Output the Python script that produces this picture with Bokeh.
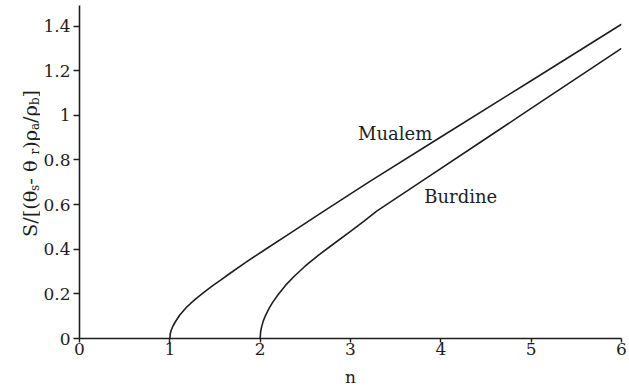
import math
import glob
from bokeh.plotting import figure
from bokeh.layouts import row
from bokeh.models import FixedTicker, Range1d, Label
from bokeh.core.properties import value
from bokeh.embed import file_html
from bokeh.resources import INLINE

# ---- data ----
mualem_n = [1.0, 1.005, 1.015, 1.035, 1.06, 1.108, 1.18, 1.23, 1.29, 1.38, 1.475, 1.57, 1.66,
            1.84, 2.06, 2.30, 2.65, 3.00, 3.25, 4.00, 5.00, 6.00]
mualem_s = [0.0, 0.021, 0.037, 0.056, 0.074, 0.104, 0.138, 0.157, 0.179, 0.208, 0.237, 0.264, 0.290,
            0.341, 0.400, 0.463, 0.556, 0.648, 0.713, 0.903, 1.155, 1.408]

burdine_n = [2.0, 2.005, 2.015, 2.035, 2.06, 2.10, 2.14, 2.20, 2.28, 2.38, 2.50, 2.65,
             2.80, 3.00, 3.15, 3.29, 3.79, 4.50, 5.00, 6.00]
burdine_s = [0.0, 0.030, 0.051, 0.079, 0.104, 0.136, 0.163, 0.197, 0.238, 0.280, 0.325, 0.375,
             0.420, 0.480, 0.526, 0.571, 0.705, 0.896, 1.031, 1.300]

x_ticks = [0, 1, 2, 3, 4, 5, 6]
x_tick_labels = ["0", "1", "2", "3", "4", "5", "6"]
y_ticks = [0, 0.2, 0.4, 0.6, 0.8, 1.0, 1.2, 1.4]
y_tick_labels = ["0", "0.2", "0.4", "0.6", "0.8", "1", "1.2", "1.4"]

curve_names = ["Mualem", "Burdine"]
x_label = "n"
# y label: S/[(θs - θr)ρa/ρb] split into normal / subscript runs
y_label_runs = ["S/[(θ", "s", " - θ", "r", ")ρ", "a", "/ρ", "b", "]"]
y_label_is_sub = [False, True, False, True, False, True, False, True, False]

FONT = "DejaVu Serif"
INK = "#1e1e1e"
W, H = 629, 389
LW = 40                 # width of the strip that carries the rotated y title
TOP, BOTTOM = 5, 49     # borders above / below the plotting frame

# ---- main plot ----
p = figure(width=W - LW, height=H, output_backend="svg", toolbar_location=None,
           x_range=Range1d(0, 6), y_range=Range1d(0, 1.492),
           min_border_left=76 - LW, min_border_right=8,
           min_border_top=TOP, min_border_bottom=BOTTOM)
p.outline_line_color = None
p.xgrid.visible = False
p.ygrid.visible = False

p.line(mualem_n, mualem_s, line_color=INK, line_width=1.6)
p.line(burdine_n, burdine_s, line_color=INK, line_width=1.6)

for ax in (p.xaxis[0], p.yaxis[0]):
    ax.axis_line_color = INK
    ax.axis_line_width = 1.6
    ax.major_tick_line_color = INK
    ax.major_tick_line_width = 1.4
    ax.minor_tick_line_color = None
    ax.major_tick_in = 0
    ax.major_label_text_font = FONT
    ax.major_label_text_font_size = "17px"
    ax.major_label_text_color = INK

xa = p.xaxis[0]
xa.ticker = FixedTicker(ticks=x_ticks)
xa.major_label_overrides = {t: s for t, s in zip(x_ticks, x_tick_labels)}
xa.major_tick_out = 4
xa.major_label_standoff = 0
xa.axis_label = x_label
xa.axis_label_text_font = FONT
xa.axis_label_text_font_size = "17px"
xa.axis_label_text_font_style = "normal"
xa.axis_label_text_color = INK
xa.axis_label_standoff = 9

ya = p.yaxis[0]
ya.ticker = FixedTicker(ticks=y_ticks)
ya.major_label_overrides = {t: s for t, s in zip(y_ticks, y_tick_labels)}
ya.major_tick_out = 6
ya.major_label_standoff = 3

for name, lx, ly in ((curve_names[0], 3.083, 0.888), (curve_names[1], 3.817, 0.606)):
    p.add_layout(Label(x=lx, y=ly, y_offset=7, text=name, text_font=FONT, text_font_size="18px",
                       text_align="left", text_baseline="alphabetic", text_color=INK))

# ---- strip with the rotated y title; its frame lines up with the main frame ----
q = figure(width=LW, height=H, output_backend="svg", toolbar_location=None,
           x_range=Range1d(0, LW), y_range=Range1d(BOTTOM, H - TOP),
           x_axis_location=None, y_axis_location=None,
           min_border_left=0, min_border_right=0,
           min_border_top=TOP, min_border_bottom=BOTTOM)
q.outline_line_color = None
q.xgrid.visible = False
q.ygrid.visible = False


def measure(text, size):
    """Advance width in px of text in DejaVu Serif at the given size."""
    try:
        from PIL import ImageFont
        paths = glob.glob("/usr/share/fonts/**/DejaVuSerif.ttf", recursive=True)
        if paths:
            f = ImageFont.truetype(paths[0], 200)
            return f.getlength(text) * size / 200.0
    except Exception:
        pass
    em = {"S": 0.685, "/": 0.337, "[": 0.390, "(": 0.390, "θ": 0.62, " ": 0.318, "-": 0.338,
          ")": 0.390, "ρ": 0.64, "]": 0.390, "s": 0.513, "r": 0.478, "a": 0.596, "b": 0.640}
    return sum(em.get(c, 0.6) for c in text) * size


TARGET = 148.0           # length of the title in the reference, px
SUB_RATIO = 0.62
base = sum(measure(t, SUB_RATIO if s else 1.0) for t, s in zip(y_label_runs, y_label_is_sub))
MAIN = TARGET / base
SUB = MAIN * SUB_RATIO
pos = H - 238.0          # data y == H - page y
main_t, main_x, main_y, sub_t, sub_x, sub_y = [], [], [], [], [], []
for t, s in zip(y_label_runs, y_label_is_sub):
    if s:
        sub_t.append(t); sub_x.append(34.0); sub_y.append(pos)
        pos += measure(t, SUB)
    else:
        main_t.append(t); main_x.append(30.0); main_y.append(pos)
        pos += measure(t, MAIN)

q.text(main_x, main_y, text=main_t, angle=math.pi / 2, text_font=value(FONT),
       text_font_size=f"{MAIN:.2f}px", text_align="left", text_baseline="alphabetic",
       text_color=INK)
q.text(sub_x, sub_y, text=sub_t, angle=math.pi / 2, text_font=value(FONT),
       text_font_size=f"{SUB:.2f}px", text_align="left", text_baseline="alphabetic",
       text_color=INK)

layout = row(q, p, spacing=0)
open("out.html", "w").write(file_html(layout, INLINE))
